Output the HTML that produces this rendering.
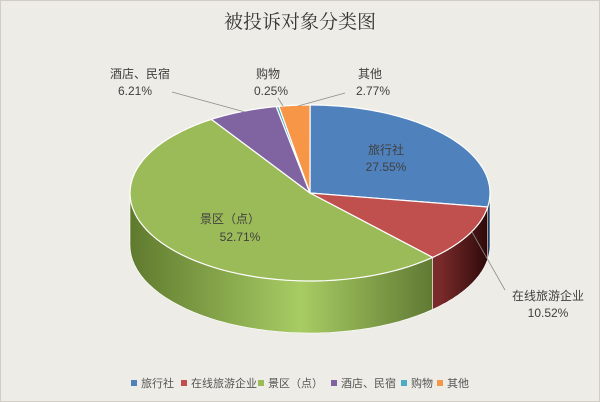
<!DOCTYPE html>
<html><head><meta charset="utf-8"><style>
html,body{margin:0;padding:0;background:#eeece6;}
svg{display:block;font-family:"Liberation Sans","Noto Sans CJK SC",sans-serif;}
</style></head><body>
<svg id="s" width="600" height="402" viewBox="0 0 600 402" xmlns="http://www.w3.org/2000/svg">
<defs>
<linearGradient id="gG" x1="130" x2="440" y1="0" y2="0" gradientUnits="userSpaceOnUse">
<stop offset="0" stop-color="#5f7a2e"/><stop offset="0.55" stop-color="#a8cc64"/><stop offset="1" stop-color="#5c7530"/></linearGradient>
<linearGradient id="gR" x1="440" x2="490" y1="0" y2="0" gradientUnits="userSpaceOnUse">
<stop offset="0" stop-color="#7a2a2a"/><stop offset="1" stop-color="#2a0808"/></linearGradient>
<linearGradient id="gB" x1="480" x2="490" y1="0" y2="0" gradientUnits="userSpaceOnUse">
<stop offset="0" stop-color="#2f5a8c"/><stop offset="1" stop-color="#1d3a5c"/></linearGradient>
</defs>
<rect x="0.5" y="0.5" width="599" height="401" fill="#eeece6" stroke="#cfcdc6"/>
<text x="300" y="28" text-anchor="middle" font-size="19" fill="#333" font-family="'Noto Serif CJK SC',serif">被投诉对象分类图</text>
<g id="pie"></g>
<g fill="#404040" font-size="12" text-anchor="middle">
<text x="386" y="154">旅行社</text><text x="386" y="171">27.55%</text>
<text x="230" y="223">景区（点）</text><text x="240" y="241">52.71%</text>
<text x="140" y="78">酒店、民宿</text><text x="135" y="95">6.21%</text>
<text x="268" y="78">购物</text><text x="271" y="95">0.25%</text>
<text x="370" y="78">其他</text><text x="373" y="95">2.77%</text>
<text x="548" y="300">在线旅游企业</text><text x="548" y="317">10.52%</text>
</g>
<g stroke="#8c8c8c" stroke-width="0.8" fill="none">
<polyline points="172,92 245,112"/>
<polyline points="278,98 283,106"/>
<polyline points="345,93 298,106"/>
<polyline points="472,232 505,290"/>
</g>
<g font-size="11" fill="#555">
<rect x="131" y="380" width="6" height="6" fill="#4f81bd"/><text x="141" y="387">旅行社</text>
<rect x="181" y="380" width="6" height="6" fill="#c0504d"/><text x="191" y="387">在线旅游企业</text>
<rect x="258" y="380" width="6" height="6" fill="#9bbb59"/><text x="268" y="387">景区（点）</text>
<rect x="331" y="380" width="6" height="6" fill="#8064a2"/><text x="341" y="387">酒店、民宿</text>
<rect x="401" y="380" width="6" height="6" fill="#4bacc6"/><text x="411" y="387">购物</text>
<rect x="437" y="380" width="6" height="6" fill="#f79646"/><text x="447" y="387">其他</text>
</g>
</svg>
<script>
var cx=310,cy=193,rx=180,ry=88,d=52;
var data=[[27.55,"#4f81bd","url(#gB)"],[10.52,"#c0504d","url(#gR)"],[52.71,"#9bbb59","url(#gG)"],[6.21,"#8064a2",""],[0.25,"#4bacc6",""],[2.77,"#f79646",""]];
function P(a,o){a=a*Math.PI/180;return [cx+rx*Math.sin(a),cy-ry*Math.cos(a)+(o||0)];}
var g=document.getElementById("pie"),h="",a=0,sl=[];
data.forEach(function(x){var b=a+x[0]*3.6;sl.push([a,b,x]);a=b;});
sl.forEach(function(s){var a0=Math.max(s[0],90),a1=Math.min(s[1],270);
 if(a1>a0&&s[2][2]){var p="",n=40;
  for(var i=0;i<=n;i++){var q=P(a0+(a1-a0)*i/n);p+=(i?"L":"M")+q[0].toFixed(1)+","+q[1].toFixed(1);}
  for(var i=n;i>=0;i--){var q=P(a0+(a1-a0)*i/n,d);p+="L"+q[0].toFixed(1)+","+q[1].toFixed(1);}
  h+='<path d="'+p+'Z" fill="'+s[2][2]+'" stroke="#fff" stroke-width="0.6"/>';}});
sl.forEach(function(s){var p="M"+cx+","+cy,n=60;
 for(var i=0;i<=n;i++){var q=P(s[0]+(s[1]-s[0])*i/n);p+="L"+q[0].toFixed(1)+","+q[1].toFixed(1);}
 h+='<path d="'+p+'Z" fill="'+s[2][1]+'" stroke="#fff" stroke-width="1.2"/>';});
g.innerHTML=h;
</script>
</body></html>
